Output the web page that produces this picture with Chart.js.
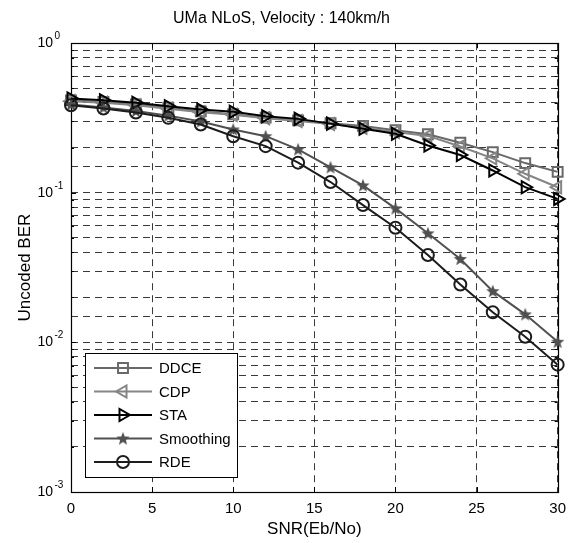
<!DOCTYPE html>
<html>
<head>
<meta charset="utf-8">
<script src="https://cdn.jsdelivr.net/npm/chart.js@4.4.0/dist/chart.umd.min.js"></script>
<style>
  html, body { margin: 0; padding: 0; background: #fff; }
  #wrap { width: 574px; height: 543px; }
</style>
</head>
<body>
<div id="wrap"><canvas id="ber-chart" width="574" height="543"></canvas></div>
<script>
// ── BER vs SNR, UMa NLoS @ 140 km/h ──────────────────────────────────────────

const snr = [0, 2, 4, 6, 8, 10, 12, 14, 16, 18, 20, 22, 24, 26, 28, 30];

const berDDCE      = [0.415, 0.405, 0.390, 0.370, 0.350, 0.335, 0.318, 0.305, 0.292, 0.280, 0.262, 0.246, 0.216, 0.187, 0.158, 0.138];
const berCDP       = [0.410, 0.400, 0.385, 0.365, 0.345, 0.332, 0.315, 0.302, 0.288, 0.272, 0.255, 0.240, 0.204, 0.170, 0.134, 0.109];
const berSTA       = [0.427, 0.416, 0.400, 0.379, 0.360, 0.348, 0.325, 0.312, 0.290, 0.268, 0.248, 0.207, 0.179, 0.141, 0.109, 0.091];
const berSmoothing = [0.390, 0.372, 0.352, 0.328, 0.300, 0.265, 0.239, 0.195, 0.148, 0.112, 0.0787, 0.0536, 0.0361, 0.0220, 0.0154, 0.0101];
const berRDE       = [0.385, 0.366, 0.344, 0.317, 0.286, 0.239, 0.205, 0.159, 0.118, 0.0828, 0.0584, 0.0384, 0.0244, 0.0159, 0.0109, 0.0071];

const seriesNames  = ['DDCE', 'CDP', 'STA', 'Smoothing', 'RDE'];
const xTickValues  = [0, 5, 10, 15, 20, 25, 30];
const yDecades     = [-3, -2, -1, 0];

const FONT = '"Liberation Sans", Arial, Helvetica, sans-serif';
Chart.defaults.font.family = FONT;
Chart.defaults.color = '#000';

// filled five-point star used as a point style
function makePentagram(color, r) {
    const c = document.createElement('canvas');
    const s = Math.ceil(r * 2) + 2;
    c.width = c.height = s;
    const g = c.getContext('2d');
    g.fillStyle = color;
    g.beginPath();
    for (let k = 0; k < 10; k++) {
        const a = -Math.PI / 2 + k * Math.PI / 5;
        const rr = k % 2 ? r * 0.42 : r;
        g.lineTo(s / 2 + rr * Math.cos(a), s / 2 + rr * Math.sin(a) + 0.5);
    }
    g.closePath();
    g.fill();
    return c;
}

const styles = [
    { color: '#686868', pointStyle: 'rect',     rotation: 0,   radius: 7 },
    { color: '#858585', pointStyle: 'triangle', rotation: -90, radius: 7 },
    { color: '#000000', pointStyle: 'triangle', rotation: 90,  radius: 7 },
    { color: '#505050', pointStyle: makePentagram('#505050', 7), rotation: 0, radius: 7 },
    { color: '#1c1c1c', pointStyle: 'circle',   rotation: 0,   radius: 6 }
];

const values = [berDDCE, berCDP, berSTA, berSmoothing, berRDE];

// later series are drawn over earlier ones
const datasets = seriesNames.map((name, i) => ({
    label: name,
    data: snr.map((x, k) => ({ x, y: values[i][k] })),
    order: seriesNames.length - 1 - i,
    borderColor: styles[i].color,
    borderWidth: 2,
    backgroundColor: 'transparent',
    pointStyle: styles[i].pointStyle,
    pointRotation: styles[i].rotation,
    pointRadius: styles[i].radius,
    pointBorderColor: styles[i].color,
    pointBackgroundColor: 'rgba(0,0,0,0)',
    pointBorderWidth: 2,
    tension: 0,
    clip: false
}));

// axes box, inward ticks, power-of-ten labels and the boxed legend
const frame = {
    id: 'frame',
    beforeDatasetsDraw(chart) {
        const { ctx, chartArea: a } = chart;
        const xs = chart.scales.x, ys = chart.scales.y;
        ctx.save();
        ctx.strokeStyle = '#000';
        ctx.lineWidth = 1;
        ctx.beginPath();
        xTickValues.forEach(v => {
            const px = Math.round(xs.getPixelForValue(v)) + 0.5;
            ctx.moveTo(px, a.bottom); ctx.lineTo(px, a.bottom - 5);
            ctx.moveTo(px, a.top);    ctx.lineTo(px, a.top + 5);
        });
        yDecades.forEach(e => {
            for (let m = 1; m <= 9; m++) {
                const v = m * Math.pow(10, e);
                if (v > 1) break;
                const py = Math.round(ys.getPixelForValue(v)) + 0.5;
                const len = m === 1 ? 5 : 3;
                ctx.moveTo(a.left, py);  ctx.lineTo(a.left + len, py);
                ctx.moveTo(a.right, py); ctx.lineTo(a.right - len, py);
            }
        });
        ctx.stroke();
        ctx.lineWidth = 1.2;
        ctx.strokeRect(Math.round(a.left) + 0.5, Math.round(a.top) + 0.5,
                       Math.round(a.right - a.left), Math.round(a.bottom - a.top));
        ctx.restore();
    },
    afterDraw(chart) {
        const { ctx } = chart;
        const ys = chart.scales.y;
        ctx.save();
        ctx.fillStyle = '#000';
        ctx.textBaseline = 'middle';
        yDecades.forEach(e => {
            const py = ys.getPixelForValue(Math.pow(10, e));
            ctx.font = '14px ' + FONT;
            ctx.textAlign = 'right';
            ctx.fillText('10', 53, py);
            ctx.font = '10px ' + FONT;
            ctx.textAlign = 'left';
            ctx.fillText(String(e), 54.5, py - 7);
        });

        // legend
        ctx.fillStyle = '#fff';
        ctx.fillRect(85, 353, 152, 124);
        ctx.strokeStyle = '#000';
        ctx.lineWidth = 1;
        ctx.strokeRect(85.5, 353.5, 152, 124);
        chart.data.datasets.forEach((ds, i) => {
            const y = 368 + i * 23.5;
            ctx.strokeStyle = ds.borderColor;
            ctx.lineWidth = ds.borderWidth;
            ctx.beginPath();
            ctx.moveTo(94, y);
            ctx.lineTo(152, y);
            ctx.stroke();
            ctx.fillStyle = 'rgba(0,0,0,0)';
            Chart.helpers.drawPoint(ctx, {
                pointStyle: ds.pointStyle,
                rotation: ds.pointRotation,
                radius: ds.pointRadius,
                borderWidth: ds.pointBorderWidth
            }, 123, y);
            ctx.fillStyle = '#000';
            ctx.font = '15px ' + FONT;
            ctx.textAlign = 'left';
            ctx.fillText(ds.label, 159, y + 1);
        });
        ctx.restore();
    }
};

new Chart(document.getElementById('ber-chart'), {
    type: 'line',
    data: { datasets },
    options: {
        responsive: false,
        animation: false,
        events: [],
        layout: { padding: { left: 0, right: 11, top: 0, bottom: 0 } },
        plugins: {
            legend: { display: false },
            tooltip: { enabled: false },
            title: {
                display: true,
                text: 'UMa NLoS, Velocity : 140km/h',
                color: '#000',
                font: { size: 16, weight: 'normal' },
                padding: { top: 9, bottom: 15 }
            }
        },
        scales: {
            x: {
                type: 'linear',
                min: 0,
                max: 30,
                ticks: { stepSize: 5, font: { size: 15 }, color: '#000', padding: 8, maxRotation: 0 },
                grid: { color: '#3a3a3a', lineWidth: 1, drawTicks: false },
                border: { display: false, dash: [7, 5] },
                title: {
                    display: true,
                    text: 'SNR(Eb/No)',
                    color: '#000',
                    font: { size: 17 },
                    padding: { top: 0, bottom: 3 }
                },
                afterFit: s => { s.height = 51; }
            },
            y: {
                type: 'logarithmic',
                min: 0.001,
                max: 1,
                ticks: { display: false },
                grid: { color: '#3a3a3a', lineWidth: 1, drawTicks: false },
                border: { display: false, dash: [7, 5] },
                title: {
                    display: true,
                    text: 'Uncoded BER',
                    color: '#000',
                    font: { size: 17 },
                    padding: { top: 15, bottom: 0 }
                },
                afterFit: s => { s.width = 71; }
            }
        }
    },
    plugins: [frame]
});
</script>
</body>
</html>
